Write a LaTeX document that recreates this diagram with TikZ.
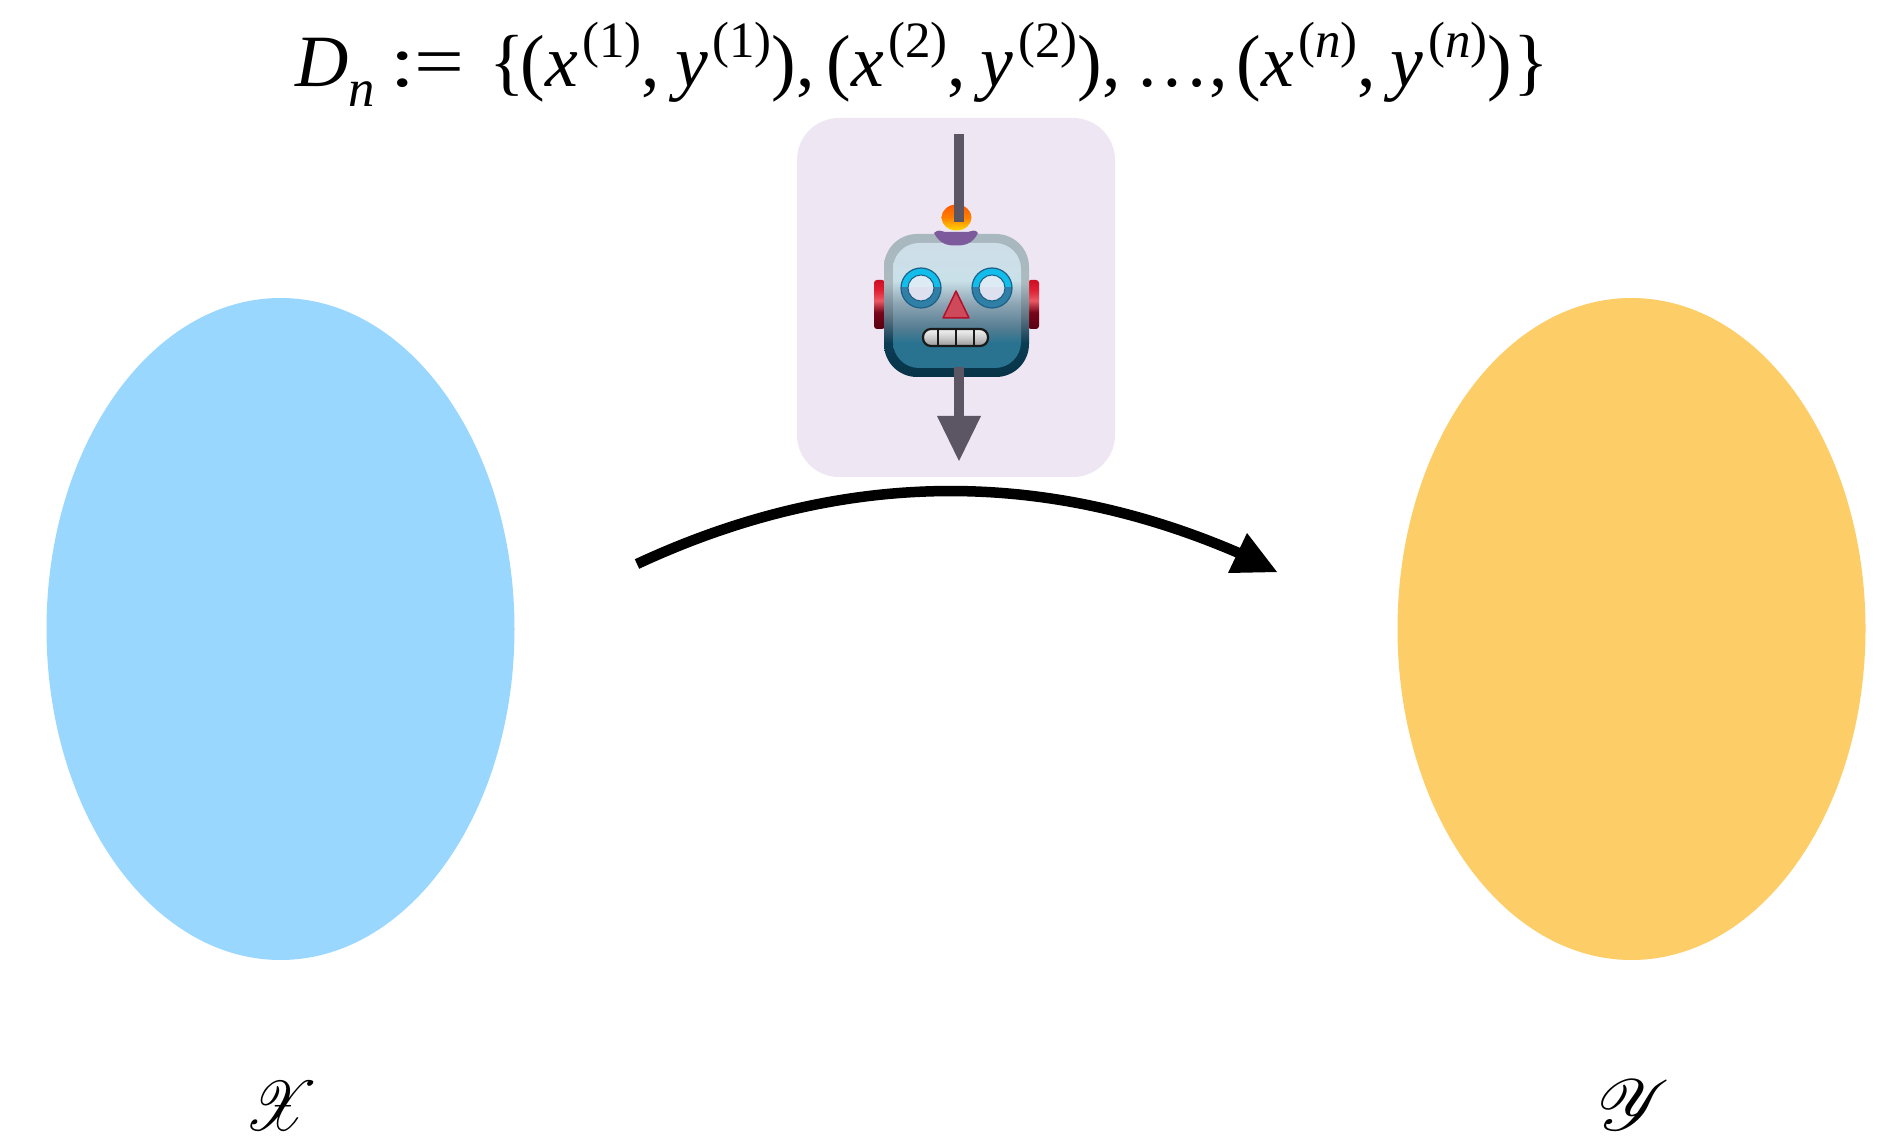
\documentclass[tikz,border=0pt]{standalone}
\usepackage{graphicx}
\usepackage{fontspec}
\usepackage{mathrsfs}
\setmainfont{Liberation Serif}
\usetikzlibrary{calc,shapes.geometric}
\definecolor{panelcol}{HTML}{EEE6F3}
\definecolor{barcol}{HTML}{5C5664}
\definecolor{setx}{HTML}{9AD7FF}
\definecolor{sety}{HTML}{FDCD67}
\definecolor{ringtop}{HTML}{10BDEB}
\definecolor{ringlow}{HTML}{2F7FA6}
\definecolor{ringedge}{HTML}{1D5F85}
\definecolor{eyetop}{HTML}{DDEBF5}
\definecolor{eyelow}{HTML}{DDE0EE}
\definecolor{nosefill}{HTML}{CE4A5B}
\definecolor{noseedge}{HTML}{B5102A}
\definecolor{capcol}{HTML}{7C5A9C}
\pgfdeclareverticalshading{headouter}{100bp}{rgb(0bp)=(.03,.20,.28);rgb(25bp)=(.03,.20,.28);rgb(37bp)=(.04,.24,.33);rgb(46bp)=(.37,.45,.51);rgb(58bp)=(.67,.73,.75);rgb(75bp)=(.66,.72,.75);rgb(100bp)=(.66,.72,.75)}
\pgfdeclareverticalshading{headinner}{100bp}{rgb(0bp)=(.16,.45,.57);rgb(25bp)=(.16,.45,.57);rgb(35bp)=(.16,.45,.57);rgb(41bp)=(.33,.49,.57);rgb(51bp)=(.56,.65,.71);rgb(60bp)=(.79,.88,.91);rgb(75bp)=(.81,.87,.91);rgb(100bp)=(.81,.87,.91)}
\pgfdeclareverticalshading{earshade}{100bp}{rgb(0bp)=(.35,0,.06);rgb(25bp)=(.35,0,.06);rgb(42bp)=(.47,.02,.10);rgb(54bp)=(.92,.35,.39);rgb(65bp)=(.88,.12,.20);rgb(75bp)=(.80,.06,.14);rgb(100bp)=(.80,.06,.14)}
\pgfdeclareverticalshading{toothshade}{100bp}{rgb(0bp)=(.60,.60,.60);rgb(25bp)=(.60,.60,.60);rgb(50bp)=(.80,.80,.80);rgb(75bp)=(.96,.96,.96);rgb(100bp)=(.96,.96,.96)}
\newlength{\pxu}\setlength{\pxu}{0.02cm}
\tikzset{
  setblob/.style={ellipse,minimum width=468\pxu,minimum height=662\pxu,inner sep=0pt,outer sep=0pt},
  formulatext/.style={anchor=base,inner sep=0pt,font=\fontsize{42}{50}\selectfont},
  setlabel/.style={anchor=base,inner sep=0pt,font=\fontsize{24}{30}\selectfont},
  mainarrow/.style={line width=10.5\pxu,black},
  barline/.style={line width=10\pxu,barcol},
}
\newcommand{\Sup}[1]{\raisebox{0.40em}{\fontsize{29}{32}\selectfont #1}}
\newcommand{\Pair}[1]{(\textit{x}\kern0.06em\Sup{(#1)}\kern0.0em,\kern0.2em\textit{y}\kern0.06em\Sup{(#1)})}
\begin{document}
\begin{tikzpicture}[x=0.02cm,y=-0.02cm]
\useasboundingbox (0,0) rectangle (1887,1145);
% sets
\node[setblob,fill=setx] (setX) at (280.5,629) {};
\node[setblob,fill=sety] (setY) at (1631.5,629) {};
\node[setlabel] (labX) at (281,1130) {\scalebox{1.4}[1.6]{$\mathscr{X}$}};
\node[setlabel] (labY) at (1634,1130) {\scalebox{1.65}[1.65]{$\mathscr{Y}$}};
% formula
\node[formulatext] (formula) at (922,87) {\textit{D}\raisebox{-0.27em}{\fontsize{30}{32}\selectfont\textit{n}}\kern0.21em\scalebox{1.2}[1]{:=}\kern0.33em\{\kern-0.05em\Pair{1},\kern0.16em\Pair{2},\kern0.2em…,\kern0.12em\Pair{\textit{n}}\kern0.02em\}};
% main arrow
\coordinate (arrS) at (637,564);
\coordinate (arrE) at (1241,554);
\draw[mainarrow] (arrS) .. controls (839,470) and (1041,467) .. (arrE);
\fill[black] (1247,533) -- (1277,572) -- (1228,573) -- cycle;
% panel
\fill[panelcol,rounded corners=42\pxu] (797,118) rectangle (1115,477);
% robot ears
\shade[shading=earshade,rounded corners=3\pxu] (874,280) rectangle (885,329);
\shade[shading=earshade,rounded corners=3\pxu] (1028,280) rectangle (1039,329);
% robot head
\shade[shading=headouter,rounded corners=33\pxu] (884,234) rectangle (1029,377);
\shade[shading=headinner,rounded corners=26\pxu] (893,243) rectangle (1021,368);
% antenna
\shade[top color=orange!70!red,bottom color=yellow!70!orange,middle color=orange] (956.5,217.5) ellipse [x radius=15,y radius=13];
\fill[capcol] (934,233) .. controls (938,229) and (941,231) .. (945,232) -- (968,232) .. controls (972,231) and (975,229) .. (978,233) .. controls (972,245) and (963,245.5) .. (956,245.5) .. controls (949,245.5) and (940,245) .. (934,233) -- cycle;
% eyes
\foreach \cx/\nm in {921/L,992/R}{
  \begin{scope}
    \clip (\cx-21,267) rectangle (\cx+21,288);
    \fill[ringtop] (\cx,288) circle [radius=20];
    \fill[eyetop] (\cx,288) circle [radius=13];
  \end{scope}
  \begin{scope}
    \clip (\cx-21,288) rectangle (\cx+21,309);
    \fill[ringlow] (\cx,288) circle [radius=20];
    \fill[eyelow] (\cx,288) circle [radius=13];
  \end{scope}
  \draw[line width=1.2\pxu,ringedge] (\cx,288) circle [radius=20];
  \draw[line width=1\pxu,ringedge] (\cx,288) circle [radius=13];
}
% nose
\fill[fill=nosefill,draw=noseedge,line width=1.5\pxu,line join=round] (956,291) -- (943,318) -- (969,318) -- cycle;
% mouth
\shade[shading=toothshade,draw=black!90,line width=2.2\pxu,rounded corners=8\pxu] (923,329) rectangle (988,346);
\foreach \tx in {938,956,974}{\draw[line width=2.8\pxu,black!90] (\tx,329) -- (\tx,346);}
% probe arrow through robot
\coordinate (barTop) at (959,134);
\coordinate (barMid) at (959,222);
\draw[barline] (barTop) -- (barMid);
\coordinate (barLow) at (959,367);
\coordinate (barEnd) at (959,418);
\draw[barline] (barLow) -- (barEnd);
\fill[barcol] (937,416) -- (981,416) -- (959,461) -- cycle;
\end{tikzpicture}
\end{document}
